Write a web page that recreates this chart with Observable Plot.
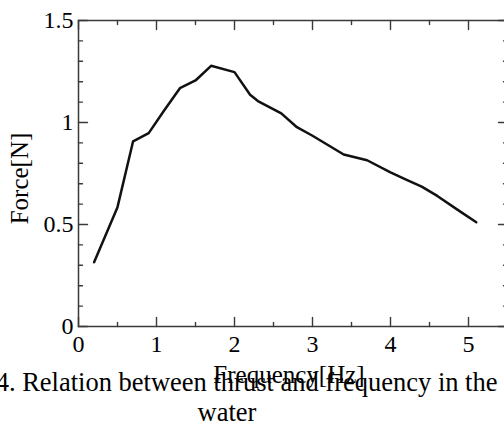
<!DOCTYPE html>
<html>
<head>
<meta charset="utf-8">
<script src="https://cdn.jsdelivr.net/npm/d3@7"></script>
<script src="https://cdn.jsdelivr.net/npm/@observablehq/plot@0.6"></script>
<style>
  html, body { margin: 0; padding: 0; background: white; }
  #chart { width: 504px; height: 426px; overflow: hidden; }
</style>
</head>
<body>
<div id="chart"></div>
<script>
const freq  = [0.2, 0.5, 0.7, 0.9, 1.1, 1.3, 1.5, 1.7, 2.0, 2.2, 2.3, 2.6, 2.8, 3.0, 3.4, 3.7, 4.0, 4.2, 4.4, 4.6, 4.9, 5.1];
const force = [0.315, 0.585, 0.908, 0.948, 1.06, 1.168, 1.206, 1.278, 1.247, 1.136, 1.105, 1.045, 0.977, 0.935, 0.843, 0.815, 0.756, 0.72, 0.686, 0.64, 0.562, 0.511];

const xMajor = [0, 1, 2, 3, 4, 5];
const xMinor = [0.5, 1.5, 2.5, 3.5, 4.5];
const yMajor = [0, 0.5, 1, 1.5];
const yMinor = [0.1, 0.2, 0.3, 0.4, 0.6, 0.7, 0.8, 0.9, 1.1, 1.2, 1.3, 1.4];

const xTitle = "Frequency[Hz]";
const yTitle = "Force[N]";
const captionLine1 = "4. Relation between thrust and frequency in the";
const captionLine2 = "water";

const data = freq.map((f, i) => ({f, F: force[i]}));

const tickShape = {draw(context, l) { context.moveTo(0, 0); context.lineTo(0, -l); }};
const axisColor = "#3a3a3a";

function ticks(values, channel, frameAnchor, rotate, length) {
  const opts = {frameAnchor, rotate, length, anchor: "start", shape: tickShape, stroke: axisColor, strokeWidth: 1.4};
  opts[channel] = d => d;
  return Plot.vector(values, opts);
}

const chart = Plot.plot({
  width: 504,
  height: 426,
  marginTop: 20,
  marginBottom: 100,
  marginLeft: 78,
  marginRight: -3,
  style: {fontFamily: "'Liberation Serif', 'Times New Roman', serif", fontSize: "24px", background: "white", color: "black"},
  x: {domain: [0, 5.5]},
  y: {domain: [0, 1.5]},
  marks: [
    Plot.frame({stroke: axisColor, strokeWidth: 1.5}),
    ticks(xMajor, "x", "bottom", 0, 9),
    ticks(xMinor, "x", "bottom", 0, 4),
    ticks(xMajor, "x", "top", 180, 9),
    ticks(xMinor, "x", "top", 180, 4),
    ticks(yMajor, "y", "left", 90, 9),
    ticks(yMinor, "y", "left", 90, 4),
    ticks(yMajor, "y", "right", -90, 9),
    ticks(yMinor, "y", "right", -90, 4),
    Plot.axisX(xMajor, {anchor: "bottom", tickSize: 0, tickPadding: 8, fontSize: 24, label: null, tickFormat: d => String(d), fill: "black"}),
    Plot.axisY(yMajor, {anchor: "left", tickSize: 0, tickPadding: 5, fontSize: 24, label: null, tickFormat: d => String(d), fill: "black"}),
    Plot.line(data, {x: "f", y: "F", stroke: "#111", strokeWidth: 2.5, strokeLinejoin: "round"}),
    Plot.text([xTitle], {text: d => d, frameAnchor: "bottom", textAnchor: "middle", dx: -4, dy: 48, lineAnchor: "middle", fontSize: 25, fill: "black"}),
    Plot.text([yTitle], {text: d => d, frameAnchor: "left", textAnchor: "middle", dx: -59, dy: 5, rotate: -90, lineAnchor: "middle", fontSize: 25, fill: "black"}),
    Plot.text([captionLine1], {text: d => d, frameAnchor: "bottom-right", dx: -10, dy: 56, textAnchor: "end", lineAnchor: "middle", fontSize: 26.5, fill: "black"}),
    Plot.text([captionLine2], {text: d => d, frameAnchor: "bottom", textAnchor: "middle", dx: -66, dy: 86, lineAnchor: "middle", fontSize: 26.5, fill: "black"})
  ]
});
document.getElementById("chart").appendChild(chart);
</script>
</body>
</html>
